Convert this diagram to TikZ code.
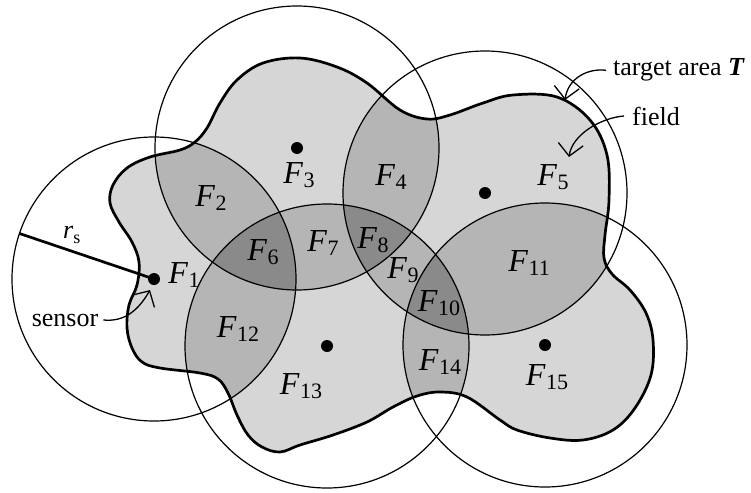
\documentclass[tikz,border=0pt]{standalone}
\usepackage{fontspec}
\setmainfont{Liberation Serif}
\usetikzlibrary{arrows.meta}
\definecolor{fillA}{gray}{0.84}
\definecolor{fillB}{gray}{0.71}
\definecolor{fillC}{gray}{0.54}
\newcommand{\Flab}[1]{\textit{F}\kern0.5pt\raisebox{-4pt}{\fontsize{22}{22}\selectfont #1}}
\begin{document}
\begin{tikzpicture}[x=1pt,y=-1pt,
  ring/.style={line width=1.2pt},
  lab/.style={font=\fontsize{32}{34}\selectfont, inner sep=0pt},
  txt/.style={font=\fontsize{26}{30}\selectfont, inner sep=0pt},
  pointer/.style={line width=1.3pt, -{Straight Barb[length=12pt,width=25pt]}},
  border/.style={line width=2.7pt}]
\fill[white] (0,0) rectangle (751,492);
\useasboundingbox (0,0) rectangle (751,492);
\coordinate (s1) at (154,279);
\coordinate (s3) at (297,148);
\coordinate (s5) at (485,193);
\coordinate (s13) at (327,346);
\coordinate (s15) at (545,345);
\coordinate (rsend) at (19.5,233.5);
\path[save path=\Tpath] plot[smooth cycle, tension=0.6] coordinates {
 (127,168) (150,157) (180,150) (195,142) (207,128) (220,103) (237,80) (263,63)
 (300,58) (337,67) (367,83) (400,110) (427,119) (450,115) (483,103) (513,95)
 (557,97) (590,120) (607,155) (609,200) (605,235) (604,258) (612,274) (630,290)
 (646,313) (653,340) (651,375) (635,408) (613,430) (583,440) (550,438) (517,430)
 (500,420) (467,397) (440,392) (417,396) (393,407) (367,422) (333,435) (300,445)
 (280,452) (262,447) (248,435) (237,415) (228,393) (218,379) (200,373) (160,368)
 (142,362) (132,348) (127,328) (129,305) (137,285) (139,262) (132,242) (119,222)
 (110,203) (113,185)};
\begin{scope}
  \clip[use path=\Tpath];
  \fill[fillA] (0,0) rectangle (751,492);
  \foreach \a/\b in {s1/s3, s1/s13, s3/s13, s3/s5, s5/s13, s5/s15, s13/s15}{
    \begin{scope}
      \clip (\a) circle[radius=142pt];
      \fill[fillB] (\b) circle[radius=142pt];
    \end{scope}}
  \foreach \a/\b/\c in {s1/s3/s13, s3/s5/s13, s5/s13/s15}{
    \begin{scope}
      \clip (\a) circle[radius=142pt];
      \clip (\b) circle[radius=142pt];
      \fill[fillC] (\c) circle[radius=142pt];
    \end{scope}}
\end{scope}
\foreach \s in {s1,s3,s5,s13,s15}{
  \draw[ring] (\s) circle[radius=142pt];
  \fill (\s) circle[radius=6pt];}
\draw[border, use path=\Tpath];
\draw[border] (s1) -- (rsend);
% labels
\node[lab] (l1) at (184,275) {\Flab{1}};
\node[lab] (l2) at (211,198) {\Flab{2}};
\node[lab] (l3) at (299,175) {\Flab{3}};
\node[lab] (l4) at (391,177) {\Flab{4}};
\node[lab] (l5) at (553,177) {\Flab{5}};
\node[lab] (l6) at (263,252) {\Flab{6}};
\node[lab] (l7) at (323,243) {\Flab{7}};
\node[lab] (l8) at (373,240) {\Flab{8}};
\node[lab] (l9) at (403,270) {\Flab{9}};
\node[lab] (l10) at (439,303) {\Flab{10}};
\node[lab] (l11) at (529,263) {\Flab{11}};
\node[lab] (l12) at (238,329) {\Flab{12}};
\node[lab] (l13) at (301,386) {\Flab{13}};
\node[lab] (l14) at (440,362) {\Flab{14}};
\node[lab] (l15) at (547,377) {\Flab{15}};
\node[txt, anchor=base west] (rs) at (63,238) {\textit{r}\raisebox{-5pt}{\fontsize{18}{18}\selectfont s}};
\node[txt, anchor=base] (sensor) at (65,326) {sensor};
\node[txt, anchor=base west] (target) at (613,76) {target area \textbf{\textit{T}}};
\node[txt, anchor=base west] (field) at (632,125) {field};
% pointers
\coordinate (tgtip) at (565,100);
\coordinate (fdtip) at (569,157);
\coordinate (sntip) at (150,290);
\draw[pointer] ([xshift=-7pt]target.west) .. controls (588,68) and (568,78) .. (tgtip);
\draw[pointer] ([xshift=-8pt]field.west) .. controls (600,118) and (572,135) .. (fdtip);
\draw[pointer] ([xshift=5pt]sensor.east) .. controls (124,322) and (138,311) .. (sntip);
\end{tikzpicture}
\end{document}
